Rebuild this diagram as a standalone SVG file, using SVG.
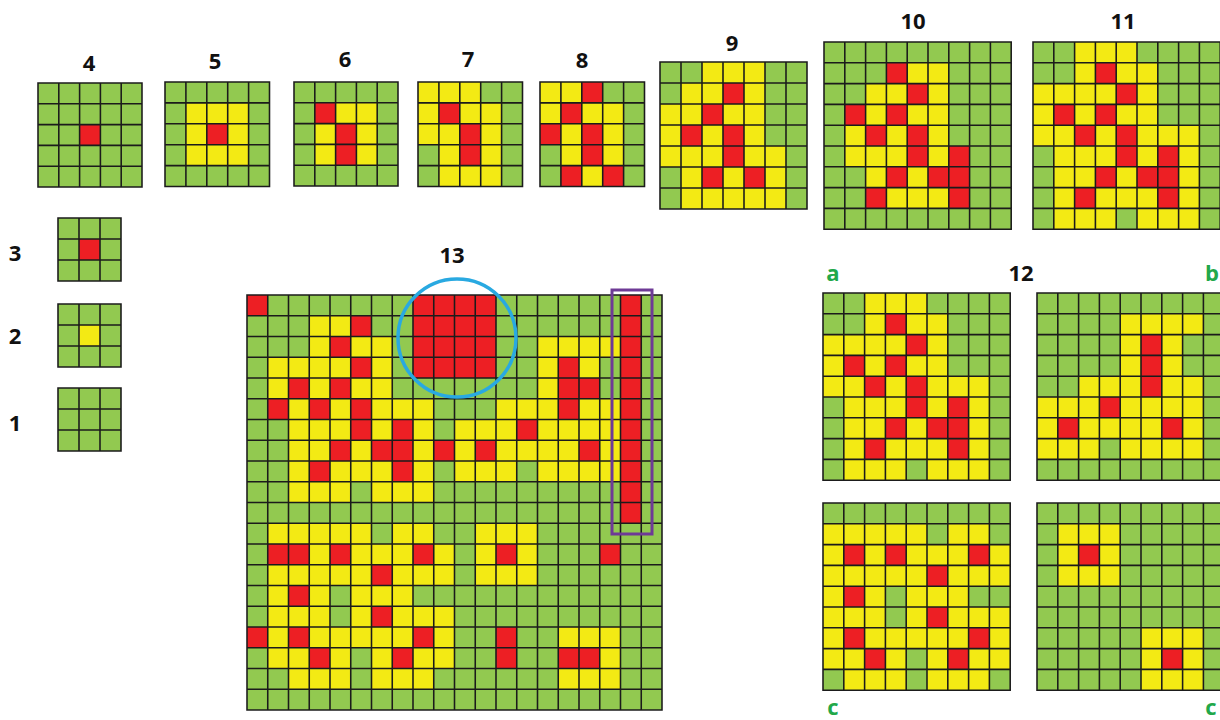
<svg xmlns="http://www.w3.org/2000/svg" xmlns:xlink="http://www.w3.org/1999/xlink" width="1220" height="720" viewBox="0 0 1220 720">
<style>
.bg{fill:#92C950}
.y{fill:#F3EA14}
.r{fill:#ED1F24}
.ln{fill:none;stroke:#1b1b1b;stroke-width:0.075;stroke-linecap:square}
.lb{font-family:"Open Sans","Liberation Sans",sans-serif;font-weight:700;font-size:22px;fill:#111;text-anchor:middle}
.gl{font-family:"Open Sans","Liberation Sans",sans-serif;font-weight:700;font-size:22px;fill:#22A84A;text-anchor:middle}
</style>
<defs>
<path id="l3" d="M0 0H3M0 1H3M0 2H3M0 3H3M0 0V3M1 0V3M2 0V3M3 0V3"/>
<path id="l5" d="M0 0H5M0 1H5M0 2H5M0 3H5M0 4H5M0 5H5M0 0V5M1 0V5M2 0V5M3 0V5M4 0V5M5 0V5"/>
<path id="l7" d="M0 0H7M0 1H7M0 2H7M0 3H7M0 4H7M0 5H7M0 6H7M0 7H7M0 0V7M1 0V7M2 0V7M3 0V7M4 0V7M5 0V7M6 0V7M7 0V7"/>
<path id="l9" d="M0 0H9M0 1H9M0 2H9M0 3H9M0 4H9M0 5H9M0 6H9M0 7H9M0 8H9M0 9H9M0 0V9M1 0V9M2 0V9M3 0V9M4 0V9M5 0V9M6 0V9M7 0V9M8 0V9M9 0V9"/>
<path id="l20" d="M0 0H20M0 1H20M0 2H20M0 3H20M0 4H20M0 5H20M0 6H20M0 7H20M0 8H20M0 9H20M0 10H20M0 11H20M0 12H20M0 13H20M0 14H20M0 15H20M0 16H20M0 17H20M0 18H20M0 19H20M0 20H20M0 0V20M1 0V20M2 0V20M3 0V20M4 0V20M5 0V20M6 0V20M7 0V20M8 0V20M9 0V20M10 0V20M11 0V20M12 0V20M13 0V20M14 0V20M15 0V20M16 0V20M17 0V20M18 0V20M19 0V20M20 0V20"/>
</defs>

<g id="labels">
<text class="lb" x="89" y="71">4</text>
<text class="lb" x="215" y="69">5</text>
<text class="lb" x="345" y="67">6</text>
<text class="lb" x="468" y="67">7</text>
<text class="lb" x="582" y="68">8</text>
<text class="lb" x="732" y="51">9</text>
<text class="lb" x="913" y="29">10</text>
<text class="lb" x="1123" y="29">11</text>
<text class="lb" x="15" y="261">3</text>
<text class="lb" x="15" y="344">2</text>
<text class="lb" x="15" y="431">1</text>
<text class="lb" x="452" y="263">13</text>
<text class="lb" x="1021" y="281">12</text>
<text class="gl" x="833" y="281">a</text>
<text class="gl" x="1212" y="281">b</text>
<text class="gl" x="833" y="715">c</text>
<text class="gl" x="1211" y="715">c</text>
</g>

<g id="grid4" transform="translate(38 83) scale(20.8)">
<rect class="bg" width="5" height="5"/>
<rect class="r" x="2" y="2" width="1" height="1"/>
<use xlink:href="#l5" class="ln"/>
</g>

<g id="grid5" transform="translate(165 82) scale(20.9)">
<rect class="bg" width="5" height="5"/>
<rect class="y" x="1" y="1" width="3" height="3"/>
<rect class="r" x="2" y="2" width="1" height="1"/>
<use xlink:href="#l5" class="ln"/>
</g>

<g id="grid6" transform="translate(294 82) scale(20.8)">
<rect class="bg" width="5" height="5"/>
<rect class="y" x="1" y="1" width="3" height="3"/>
<rect class="r" x="1" y="1" width="1" height="1"/>
<rect class="r" x="2" y="2" width="1" height="2"/>
<use xlink:href="#l5" class="ln"/>
</g>

<g id="grid7" transform="translate(418 82) scale(20.9)">
<rect class="bg" width="5" height="5"/>
<rect class="y" x="0" y="0" width="3" height="1"/>
<rect class="y" x="0" y="1" width="4" height="2"/>
<rect class="y" x="1" y="3" width="3" height="2"/>
<rect class="r" x="1" y="1" width="1" height="1"/>
<rect class="r" x="2" y="2" width="1" height="2"/>
<use xlink:href="#l5" class="ln"/>
</g>

<g id="grid8" transform="translate(540 82) scale(20.9)">
<rect class="bg" width="5" height="5"/>
<rect class="y" x="0" y="0" width="3" height="1"/>
<rect class="y" x="0" y="1" width="4" height="2"/>
<rect class="y" x="1" y="3" width="3" height="2"/>
<rect class="r" x="2" y="0" width="1" height="1"/>
<rect class="r" x="1" y="1" width="1" height="1"/>
<rect class="r" x="0" y="2" width="1" height="1"/>
<rect class="r" x="2" y="2" width="1" height="2"/>
<rect class="r" x="1" y="4" width="1" height="1"/>
<rect class="r" x="3" y="4" width="1" height="1"/>
<use xlink:href="#l5" class="ln"/>
</g>

<g id="grid9" transform="translate(660 62) scale(21)">
<rect class="bg" width="7" height="7"/>
<rect class="y" x="2" y="0" width="3" height="1"/>
<rect class="y" x="1" y="1" width="4" height="1"/>
<rect class="y" x="0" y="2" width="5" height="2"/>
<rect class="y" x="0" y="4" width="6" height="1"/>
<rect class="y" x="1" y="5" width="5" height="2"/>
<rect class="r" x="3" y="1" width="1" height="1"/>
<rect class="r" x="2" y="2" width="1" height="1"/>
<rect class="r" x="1" y="3" width="1" height="1"/>
<rect class="r" x="3" y="3" width="1" height="2"/>
<rect class="r" x="2" y="5" width="1" height="1"/>
<rect class="r" x="4" y="5" width="1" height="1"/>
<use xlink:href="#l7" class="ln"/>
</g>

<g id="grid10" transform="translate(824 42) scale(20.8)">
<rect class="bg" width="9" height="9"/>
<rect class="y" x="3" y="1" width="3" height="1"/>
<rect class="y" x="2" y="2" width="4" height="1"/>
<rect class="y" x="1" y="3" width="5" height="2"/>
<rect class="y" x="1" y="5" width="6" height="1"/>
<rect class="y" x="2" y="6" width="5" height="2"/>
<rect class="r" x="3" y="1" width="1" height="1"/>
<rect class="r" x="4" y="2" width="1" height="1"/>
<rect class="r" x="1" y="3" width="1" height="1"/>
<rect class="r" x="3" y="3" width="1" height="1"/>
<rect class="r" x="2" y="4" width="1" height="1"/>
<rect class="r" x="4" y="4" width="1" height="2"/>
<rect class="r" x="6" y="5" width="1" height="3"/>
<rect class="r" x="3" y="6" width="1" height="1"/>
<rect class="r" x="5" y="6" width="1" height="1"/>
<rect class="r" x="2" y="7" width="1" height="1"/>
<use xlink:href="#l9" class="ln"/>
</g>

<g id="grid11" transform="translate(1033 42) scale(20.8)">
<rect class="bg" width="9" height="9"/>
<rect class="y" x="2" y="0" width="3" height="1"/>
<rect class="y" x="2" y="1" width="4" height="1"/>
<rect class="y" x="0" y="2" width="6" height="2"/>
<rect class="y" x="0" y="4" width="8" height="1"/>
<rect class="y" x="1" y="5" width="7" height="3"/>
<rect class="y" x="1" y="8" width="3" height="1"/>
<rect class="y" x="5" y="8" width="3" height="1"/>
<rect class="r" x="3" y="1" width="1" height="1"/>
<rect class="r" x="4" y="2" width="1" height="1"/>
<rect class="r" x="1" y="3" width="1" height="1"/>
<rect class="r" x="3" y="3" width="1" height="1"/>
<rect class="r" x="2" y="4" width="1" height="1"/>
<rect class="r" x="4" y="4" width="1" height="2"/>
<rect class="r" x="6" y="5" width="1" height="3"/>
<rect class="r" x="3" y="6" width="1" height="1"/>
<rect class="r" x="5" y="6" width="1" height="1"/>
<rect class="r" x="2" y="7" width="1" height="1"/>
<use xlink:href="#l9" class="ln"/>
</g>

<g id="grid3" transform="translate(58 218) scale(21)">
<rect class="bg" width="3" height="3"/>
<rect class="r" x="1" y="1" width="1" height="1"/>
<use xlink:href="#l3" class="ln"/>
</g>

<g id="grid2" transform="translate(58 304) scale(21)">
<rect class="bg" width="3" height="3"/>
<rect class="y" x="1" y="1" width="1" height="1"/>
<use xlink:href="#l3" class="ln"/>
</g>

<g id="grid1" transform="translate(58 388) scale(21)">
<rect class="bg" width="3" height="3"/>
<use xlink:href="#l3" class="ln"/>
</g>

<g id="grid13" transform="translate(247 295) scale(20.75)">
<rect class="bg" width="20" height="20"/>
<rect class="y" x="3" y="1" width="3" height="1"/>
<rect class="y" x="3" y="2" width="4" height="1"/>
<rect class="y" x="14" y="2" width="4" height="1"/>
<rect class="y" x="1" y="3" width="6" height="2"/>
<rect class="y" x="14" y="3" width="3" height="2"/>
<rect class="y" x="1" y="5" width="8" height="1"/>
<rect class="y" x="12" y="5" width="6" height="1"/>
<rect class="y" x="2" y="6" width="7" height="1"/>
<rect class="y" x="10" y="6" width="8" height="1"/>
<rect class="y" x="2" y="7" width="16" height="1"/>
<rect class="y" x="2" y="8" width="7" height="1"/>
<rect class="y" x="10" y="8" width="3" height="1"/>
<rect class="y" x="14" y="8" width="4" height="1"/>
<rect class="y" x="2" y="9" width="3" height="1"/>
<rect class="y" x="6" y="9" width="3" height="1"/>
<rect class="y" x="1" y="11" width="5" height="1"/>
<rect class="y" x="7" y="11" width="2" height="1"/>
<rect class="y" x="11" y="11" width="3" height="3"/>
<rect class="y" x="1" y="12" width="9" height="2"/>
<rect class="y" x="1" y="14" width="3" height="2"/>
<rect class="y" x="5" y="14" width="3" height="1"/>
<rect class="y" x="5" y="15" width="5" height="1"/>
<rect class="y" x="0" y="16" width="10" height="1"/>
<rect class="y" x="1" y="17" width="4" height="1"/>
<rect class="y" x="6" y="17" width="4" height="1"/>
<rect class="y" x="2" y="18" width="3" height="1"/>
<rect class="y" x="6" y="18" width="3" height="1"/>
<rect class="y" x="15" y="16" width="3" height="3"/>
<rect class="r" x="0" y="0" width="1" height="1"/>
<rect class="r" x="8" y="0" width="4" height="4"/>
<rect class="r" x="18" y="0" width="1" height="11"/>
<rect class="r" x="5" y="1" width="1" height="1"/>
<rect class="r" x="4" y="2" width="1" height="1"/>
<rect class="r" x="5" y="3" width="1" height="1"/>
<rect class="r" x="15" y="3" width="1" height="3"/>
<rect class="r" x="2" y="4" width="1" height="1"/>
<rect class="r" x="4" y="4" width="1" height="1"/>
<rect class="r" x="16" y="4" width="1" height="1"/>
<rect class="r" x="1" y="5" width="1" height="1"/>
<rect class="r" x="3" y="5" width="1" height="1"/>
<rect class="r" x="5" y="5" width="1" height="2"/>
<rect class="r" x="7" y="6" width="1" height="3"/>
<rect class="r" x="13" y="6" width="1" height="1"/>
<rect class="r" x="4" y="7" width="1" height="1"/>
<rect class="r" x="6" y="7" width="1" height="1"/>
<rect class="r" x="9" y="7" width="1" height="1"/>
<rect class="r" x="11" y="7" width="1" height="1"/>
<rect class="r" x="16" y="7" width="1" height="1"/>
<rect class="r" x="3" y="8" width="1" height="1"/>
<rect class="r" x="1" y="12" width="2" height="1"/>
<rect class="r" x="4" y="12" width="1" height="1"/>
<rect class="r" x="8" y="12" width="1" height="1"/>
<rect class="r" x="12" y="12" width="1" height="1"/>
<rect class="r" x="17" y="12" width="1" height="1"/>
<rect class="r" x="6" y="13" width="1" height="1"/>
<rect class="r" x="2" y="14" width="1" height="1"/>
<rect class="r" x="6" y="15" width="1" height="1"/>
<rect class="r" x="0" y="16" width="1" height="1"/>
<rect class="r" x="2" y="16" width="1" height="1"/>
<rect class="r" x="8" y="16" width="1" height="1"/>
<rect class="r" x="12" y="16" width="1" height="2"/>
<rect class="r" x="3" y="17" width="1" height="1"/>
<rect class="r" x="7" y="17" width="1" height="1"/>
<rect class="r" x="15" y="17" width="2" height="1"/>
<use xlink:href="#l20" class="ln"/>
</g>

<g id="grid12a" transform="translate(823 293) scale(20.8)">
<rect class="bg" width="9" height="9"/>
<rect class="y" x="2" y="0" width="3" height="1"/>
<rect class="y" x="2" y="1" width="4" height="1"/>
<rect class="y" x="0" y="2" width="6" height="2"/>
<rect class="y" x="0" y="4" width="8" height="1"/>
<rect class="y" x="1" y="5" width="7" height="3"/>
<rect class="y" x="1" y="8" width="3" height="1"/>
<rect class="y" x="5" y="8" width="3" height="1"/>
<rect class="r" x="3" y="1" width="1" height="1"/>
<rect class="r" x="4" y="2" width="1" height="1"/>
<rect class="r" x="1" y="3" width="1" height="1"/>
<rect class="r" x="3" y="3" width="1" height="1"/>
<rect class="r" x="2" y="4" width="1" height="1"/>
<rect class="r" x="4" y="4" width="1" height="2"/>
<rect class="r" x="6" y="5" width="1" height="3"/>
<rect class="r" x="3" y="6" width="1" height="1"/>
<rect class="r" x="5" y="6" width="1" height="1"/>
<rect class="r" x="2" y="7" width="1" height="1"/>
<use xlink:href="#l9" class="ln"/>
</g>

<g id="grid12b" transform="translate(1037 293) scale(20.8)">
<rect class="bg" width="9" height="9"/>
<rect class="y" x="4" y="1" width="4" height="1"/>
<rect class="y" x="4" y="2" width="3" height="2"/>
<rect class="y" x="2" y="4" width="6" height="1"/>
<rect class="y" x="0" y="5" width="8" height="2"/>
<rect class="y" x="0" y="7" width="3" height="1"/>
<rect class="y" x="4" y="7" width="4" height="1"/>
<rect class="r" x="5" y="2" width="1" height="3"/>
<rect class="r" x="3" y="5" width="1" height="1"/>
<rect class="r" x="1" y="6" width="1" height="1"/>
<rect class="r" x="6" y="6" width="1" height="1"/>
<use xlink:href="#l9" class="ln"/>
</g>

<g id="grid12c" transform="translate(823 503) scale(20.8)">
<rect class="bg" width="9" height="9"/>
<rect class="y" x="0" y="1" width="5" height="1"/>
<rect class="y" x="6" y="1" width="2" height="1"/>
<rect class="y" x="0" y="2" width="9" height="2"/>
<rect class="y" x="0" y="4" width="3" height="2"/>
<rect class="y" x="4" y="4" width="3" height="1"/>
<rect class="y" x="4" y="5" width="5" height="1"/>
<rect class="y" x="0" y="6" width="9" height="1"/>
<rect class="y" x="0" y="7" width="4" height="1"/>
<rect class="y" x="5" y="7" width="4" height="1"/>
<rect class="y" x="1" y="8" width="3" height="1"/>
<rect class="y" x="5" y="8" width="3" height="1"/>
<rect class="r" x="1" y="2" width="1" height="1"/>
<rect class="r" x="3" y="2" width="1" height="1"/>
<rect class="r" x="7" y="2" width="1" height="1"/>
<rect class="r" x="5" y="3" width="1" height="1"/>
<rect class="r" x="1" y="4" width="1" height="1"/>
<rect class="r" x="5" y="5" width="1" height="1"/>
<rect class="r" x="1" y="6" width="1" height="1"/>
<rect class="r" x="7" y="6" width="1" height="1"/>
<rect class="r" x="2" y="7" width="1" height="1"/>
<rect class="r" x="6" y="7" width="1" height="1"/>
<use xlink:href="#l9" class="ln"/>
</g>

<g id="grid12d" transform="translate(1037 503) scale(20.8)">
<rect class="bg" width="9" height="9"/>
<rect class="y" x="1" y="1" width="3" height="3"/>
<rect class="y" x="5" y="6" width="3" height="3"/>
<rect class="r" x="2" y="2" width="1" height="1"/>
<rect class="r" x="6" y="7" width="1" height="1"/>
<use xlink:href="#l9" class="ln"/>
</g>

<g id="highlights">
<circle cx="457" cy="338" r="59" fill="none" stroke="#29A9E1" stroke-width="3.5"/>
<rect x="612" y="290" width="40" height="244" fill="none" stroke="#6E3A96" stroke-width="3"/>
</g>
</svg>
